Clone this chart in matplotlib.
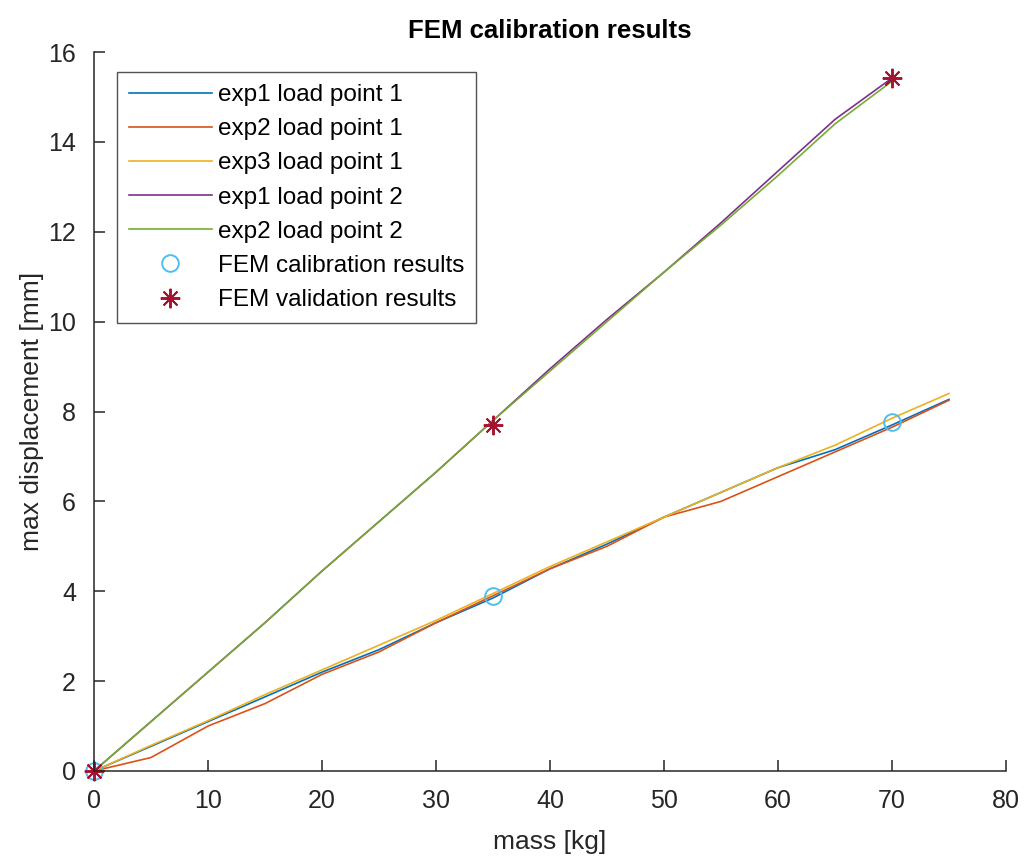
import numpy as np
import matplotlib.pyplot as plt

plt.rcParams['font.family'] = ['Liberation Sans', 'DejaVu Sans']

# mass steps [kg]
mass_lp1 = np.arange(0, 80, 5)
mass_lp2 = np.arange(0, 75, 5)

# measured max displacement [mm], load point 1
exp1_lp1 = [0, 0.55, 1.1, 1.65, 2.2, 2.7, 3.3, 3.85, 4.5, 5.05, 5.65, 6.2, 6.75, 7.15, 7.7, 8.27]
exp2_lp1 = [0, 0.3, 1.0, 1.5, 2.15, 2.65, 3.3, 3.9, 4.5, 5.0, 5.65, 6.0, 6.55, 7.1, 7.65, 8.25]
exp3_lp1 = [0, 0.57, 1.12, 1.7, 2.25, 2.8, 3.35, 3.95, 4.55, 5.1, 5.65, 6.2, 6.75, 7.25, 7.85, 8.4]

# load point 2
exp1_lp2 = [0, 1.1, 2.2, 3.3, 4.45, 5.55, 6.65, 7.8, 8.95, 10.05, 11.1, 12.2, 13.35, 14.5, 15.42]
exp2_lp2 = [0, 1.1, 2.2, 3.3, 4.45, 5.55, 6.65, 7.8, 8.9, 10.0, 11.1, 12.15, 13.25, 14.4, 15.35]

# FEM points
fem_mass = [0, 35, 70]
fem_cal = [0, 3.9, 7.77]
fem_val = [0, 7.7, 15.42]

fig = plt.figure(figsize=(10.26, 8.58), dpi=100)
ax = fig.add_axes([94/1026, 1 - 771/858, 912/1026, 719/858])

ax.plot(mass_lp1, exp1_lp1, color='#0072BD', lw=1.2, label='exp1 load point 1')
ax.plot(mass_lp1, exp2_lp1, color='#D95319', lw=1.2, label='exp2 load point 1')
ax.plot(mass_lp1, exp3_lp1, color='#EDB120', lw=1.2, label='exp3 load point 1')
ax.plot(mass_lp2, exp1_lp2, color='#7E2F8E', lw=1.2, label='exp1 load point 2')
ax.plot(mass_lp2, exp2_lp2, color='#77AC30', lw=1.2, label='exp2 load point 2')
ax.plot(fem_mass, fem_cal, 'o', mfc='none', mec='#4DBEEE', ms=12, mew=1.4,
        label='FEM calibration results', clip_on=False)
# matlab-style asterisk: 8 spokes
ax.plot(fem_mass, fem_val, marker=(8, 2, 0), ls='none', color='#A2142F', ms=14, mew=1.4,
        label='FEM validation results', clip_on=False)

ax.set_xlim(0, 80)
ax.set_ylim(0, 16)
ax.set_xticks(np.arange(0, 90, 10))
ax.set_yticks(np.arange(0, 18, 2))
ax.spines['top'].set_visible(False)
ax.spines['right'].set_visible(False)
for s in ['left', 'bottom']:
    ax.spines[s].set_color('#262626')
    ax.spines[s].set_linewidth(1.1)
ax.tick_params(direction='in', length=8, width=1.1, colors='#262626',
               labelsize=18, pad=13)

ax.set_title('FEM calibration results', fontsize=18.5, fontweight='bold', pad=10)
ax.set_xlabel('mass [kg]', fontsize=19, color='#262626', labelpad=12)
ax.set_ylabel('max displacement [mm]', fontsize=19, color='#262626', labelpad=3)

leg = ax.legend(loc='upper left', bbox_to_anchor=(23/912, 1 - 20/719), fontsize=17.5,
                frameon=True, fancybox=False, edgecolor='#262626', handlelength=3.4,
                borderaxespad=0, labelspacing=0.5, handletextpad=0.25,
                borderpad=0.5)
leg.get_frame().set_linewidth(1.0)

fig.savefig('out.png', dpi=100)
